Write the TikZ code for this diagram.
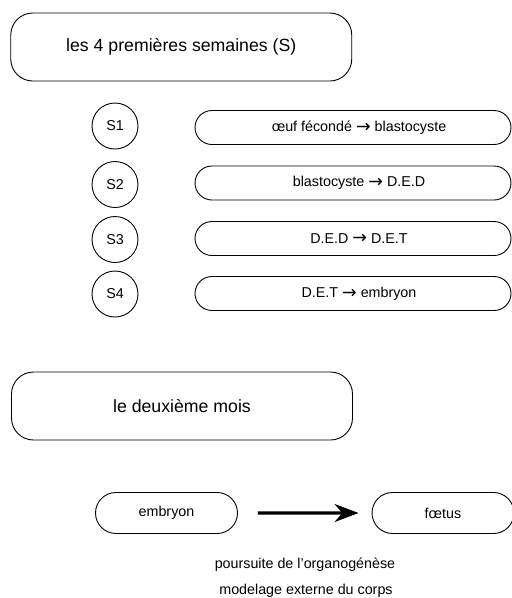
\documentclass[tikz,border=0pt]{standalone}
\usepackage{fontspec}
\setmainfont{Liberation Sans}
\newfontfamily\arrowfont{DejaVu Sans}
\newcommand{\myarrow}{\raisebox{-0.8pt}{\arrowfont\fontsize{17.5}{18}\selectfont →}}
\usetikzlibrary{arrows.meta,shapes.misc}
\begin{document}
\begin{tikzpicture}[x=1pt,y=-1pt,
  bigbox/.style={draw, line width=0.9pt, rounded corners=22pt, minimum width=341pt, minimum height=68pt, inner sep=0pt, font=\fontsize{17.7}{20}\selectfont},
  week/.style={draw, circle, line width=0.9pt, minimum size=46pt, inner sep=0pt, font=\fontsize{14.3}{16}\selectfont},
  pill/.style={draw, rounded rectangle, line width=0.9pt, minimum width=316pt, minimum height=34pt, inner sep=0pt, font=\fontsize{14.3}{16}\selectfont},
  stage/.style={draw, rounded rectangle, line width=0.9pt, minimum width=142pt, minimum height=41pt, inner sep=0pt, font=\fontsize{14.3}{16}\selectfont},
  note/.style={inner sep=0pt, font=\fontsize{14.3}{16}\selectfont},
  bigarrow/.style={-{Stealth[length=24pt,width=18pt]}, line width=3.2pt}
]
\useasboundingbox (0,0) rectangle (512,598);

\node[bigbox] (first) at (181.25,47) {les 4 premières semaines (S)};

\node[week] (s1) at (115,126) {S1};
\node[week] (s2) at (115,184.5) {S2};
\node[week] (s3) at (115,239.5) {S3};
\node[week] (s4) at (115,294) {S4};

\node[pill] (p1) at (353,127.5) {\hspace{12pt}œuf fécondé \myarrow\ blastocyste};
\node[pill] (p2) at (353,183) {\hspace{12pt}blastocyste \myarrow\ D.E.D};
\node[pill] (p3) at (353,238.5) {\hspace{12pt}D.E.D \myarrow\ D.E.T};
\node[pill] (p4) at (353,293.5) {\hspace{12pt}D.E.T \myarrow\ embryon};

\node[bigbox] (second) at (182,406) {le deuxième mois\hspace{12pt}};

\node[stage] (emb) at (166.5,513) {embryon};
\node[stage] (foet) at (443,513) {fœtus};
\draw[bigarrow, shorten <=20pt, shorten >=13pt] (emb) -- (foet);

\node[note] (n1) at (305,565) {poursuite de l'organogénèse};
\node[note] (n2) at (306,591) {modelage externe du corps};
\end{tikzpicture}
\end{document}
